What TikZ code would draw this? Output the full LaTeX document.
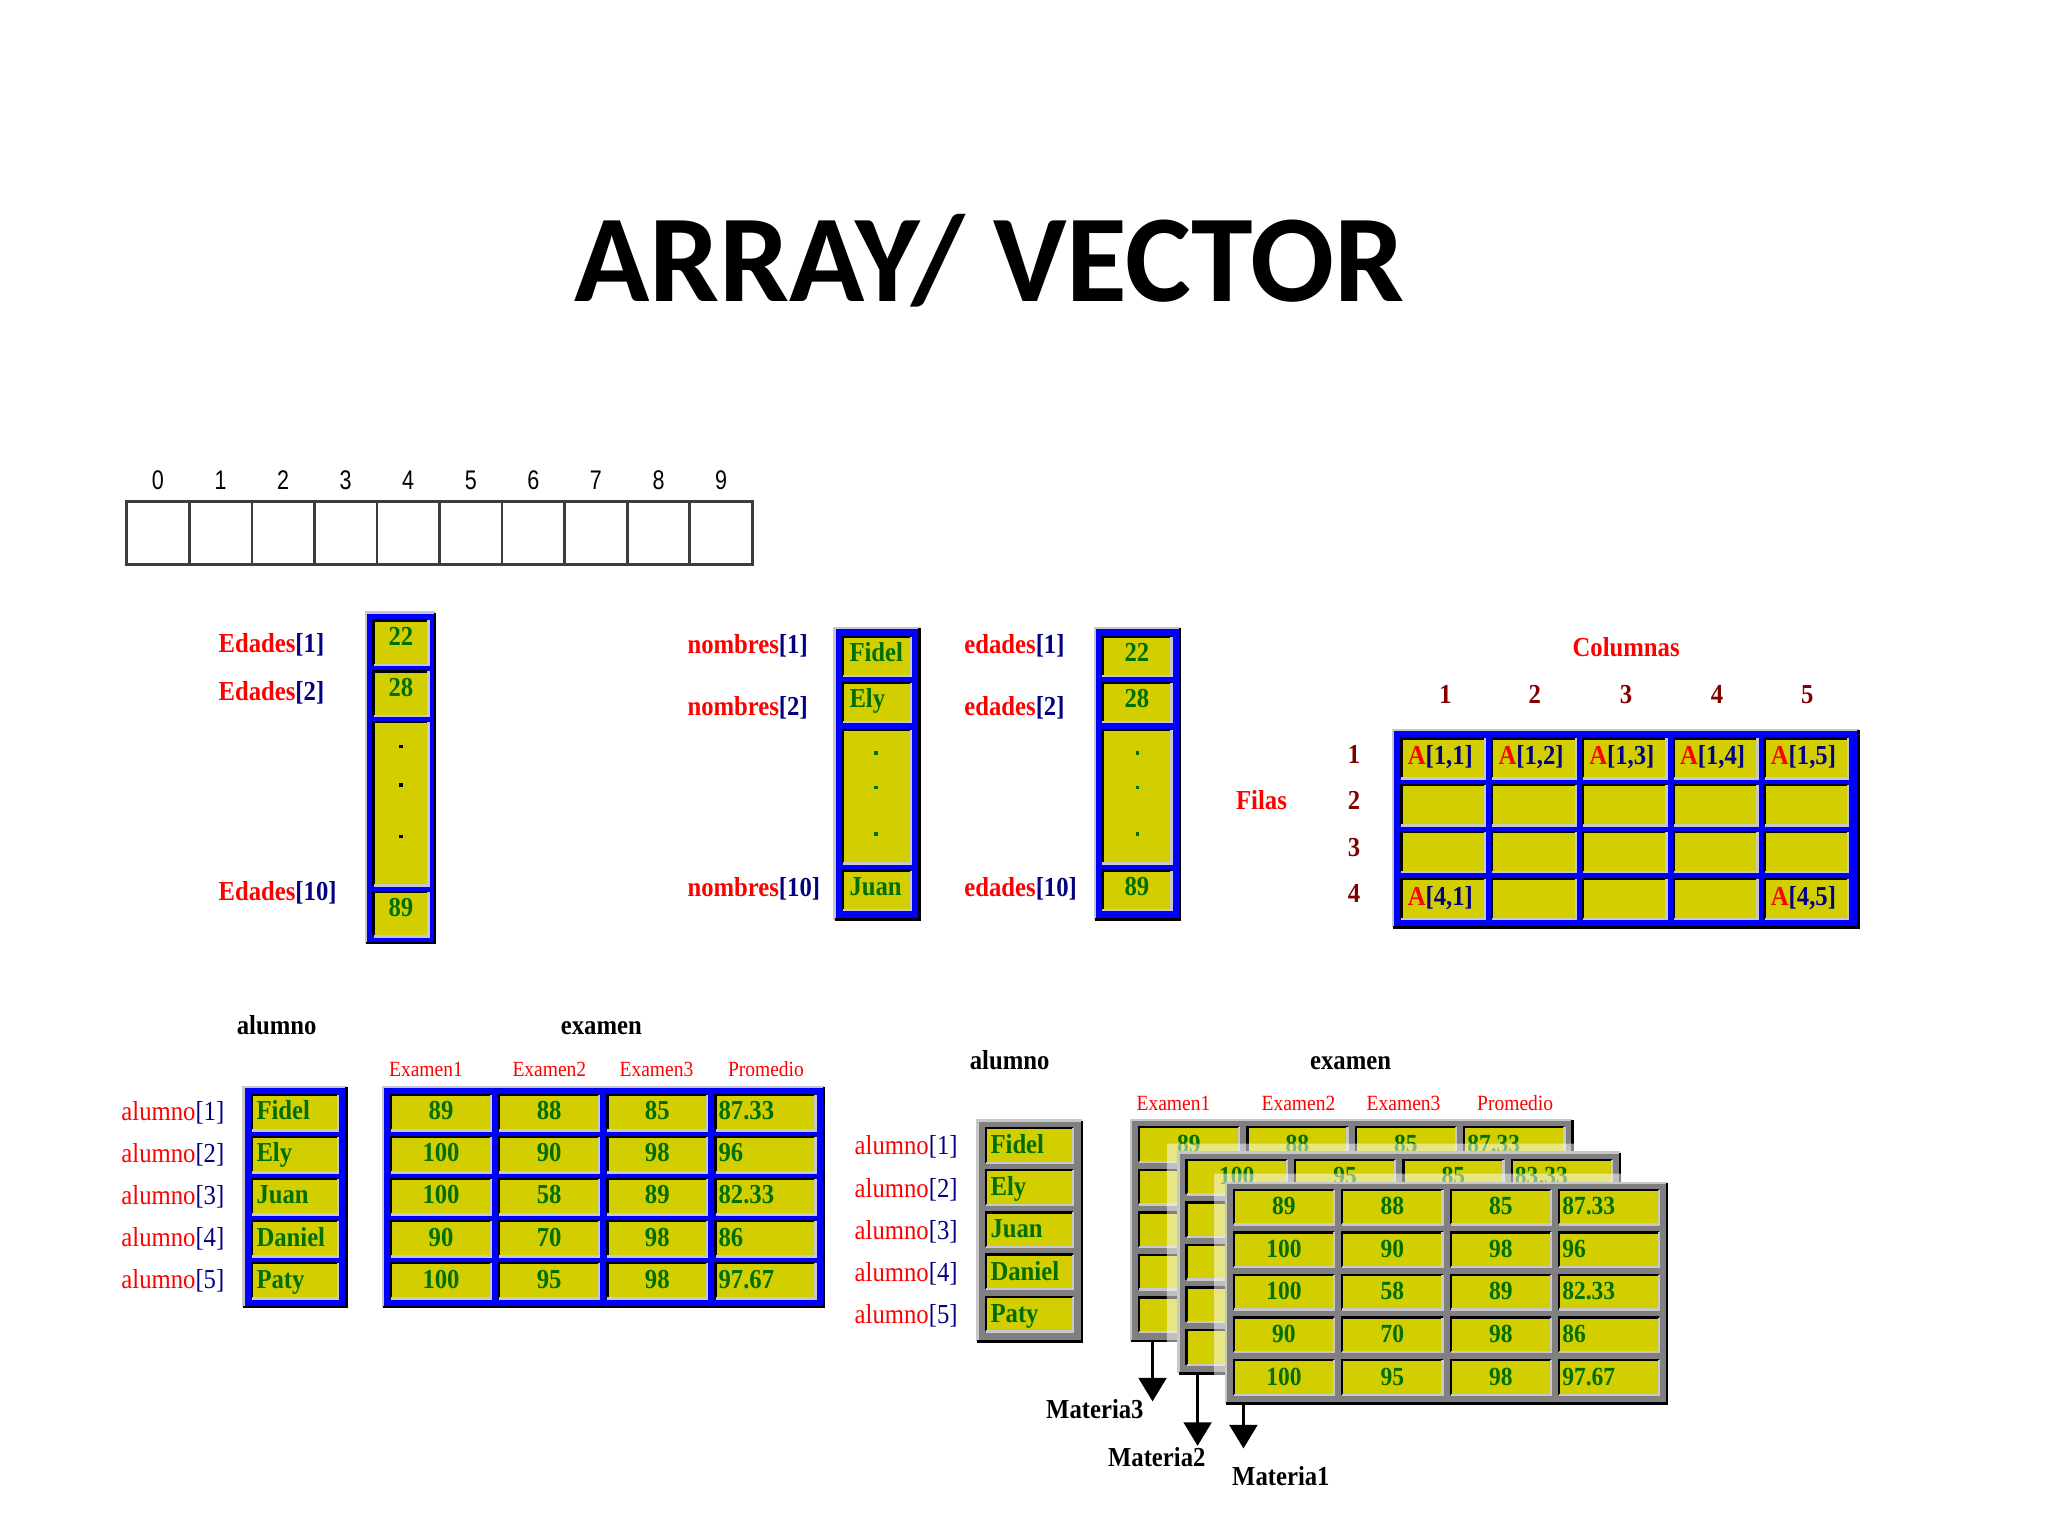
\documentclass[tikz,border=0pt]{standalone}
\usepackage{fontspec}
\setmainfont{Liberation Serif}
\newfontfamily\titlef{Carlito}
\newfontfamily\pixf[FakeStretch=0.9]{Liberation Serif}
\newfontfamily\digf[FakeStretch=0.8]{Liberation Sans}
\usetikzlibrary{calc,arrows.meta}
\definecolor{ycol}{RGB}{210,206,0}
\definecolor{gtxt}{RGB}{0,110,0}
\definecolor{navy}{RGB}{0,0,128}
\definecolor{dred}{RGB}{128,0,0}
\definecolor{frblue}{RGB}{0,0,255}
\definecolor{frgray}{RGB}{128,128,128}
\definecolor{bevl}{RGB}{200,200,200}
\definecolor{arrline}{RGB}{60,60,60}
% panel: #1 colour, #2 name, #3 x1, #4 y1, #5 x2, #6 y2
\newcommand\panel[6]{%
  \fill[#1] (#3,#4) rectangle (#5,#6);
  \draw[bevlight] (#3,#6) -- (#3,#4) -- (#5,#4);
  \draw[bevdark] (#3,#6) -- (#5,#6) -- (#5,#4);
  \coordinate (#2) at ($(#3,#4)!.5!(#5,#6)$);
}
% yellow cell: #1 name, #2 x1, #3 y1, #4 x2, #5 y2
\newcommand\ycell[5]{%
  \fill[ycol] (#2,#3) rectangle (#4,#5);
  \draw[bevdark] (#2,#5) -- (#2,#3) -- (#4,#3);
  \draw[bevlight] (#2,#5) -- (#4,#5) -- (#4,#3);
  \coordinate (#1) at ($(#2,#3)!.5!(#4,#5)$);
}
% grey exam table: #1 name, #2 x0, #3 y0
\newcommand\mtable[3]{%
  \panel{frgray}{#1}{#2}{#3}{#2+338}{#3+169}
  \foreach \rr in {0,...,4}{
    \foreach \cc in {0,...,3}{
      \pgfmathsetmacro\xa{#2+6.2+83*\cc}
      \pgfmathsetmacro\ya{#3+5.5+32.6*\rr}
      \pgfmathsetmacro\xb{\xa+76.7}
      \pgfmathsetmacro\yb{\ya+26.5}
      \ycell{#1-\rr-\cc}{\xa}{\ya}{\xb}{\yb}
    }
  }
}
% translucent band above and left of a table: #1 x0, #2 y0
\newcommand\band[2]{%
  \fill[white,opacity=.5] (#1-9,#2-7) rectangle (#1+338,#2) (#1-9,#2) rectangle (#1,#2+169);
}
% one row of table values: #1 name, #2 x0, #3 y0, #4 row, #5 list
\newcommand\mrow[5]{%
  \foreach \v [count=\cc from 0] in {#5}{
    \pgfmathsetmacro\xa{#2+6.2+83*\cc}
    \pgfmathsetmacro\ya{#3+5.5+32.6*#4+19}
    \ifnum\cc=3
      \node[lval,font=\pixf\bfseries\fontsize{10}{12}\selectfont] (#1-t-#4-\cc) at (\xa+2,\ya) {\v};
    \else
      \node[val,font=\pixf\bfseries\fontsize{10}{12}\selectfont] (#1-t-#4-\cc) at (\xa+38.3,\ya) {\v};
    \fi
  }
}
\begin{document}
\begin{tikzpicture}[x=0.5pt,y=-0.5pt,
  bevdark/.style={draw=black,line width=0.9pt},
  bevlight/.style={draw=bevl,line width=0.9pt},
  lab/.style={inner sep=0pt,anchor=base west,font=\pixf\bfseries\fontsize{10.5}{12}\selectfont},
  rlab/.style={inner sep=0pt,anchor=base west,font=\pixf\fontsize{10.5}{12}\selectfont},
  val/.style={inner sep=0pt,anchor=base,text=gtxt,font=\pixf\bfseries\fontsize{10.5}{12}\selectfont},
  lval/.style={val,anchor=base west},
  hdr/.style={inner sep=0pt,anchor=base west,text=red,font=\pixf\fontsize{8.3}{10}\selectfont},
  ttl/.style={inner sep=0pt,anchor=base,font=\pixf\bfseries\fontsize{10.5}{12}\selectfont},
  topcell/.style={draw=arrline,line width=1pt},
  arr/.style={line width=1.4pt,-{Triangle[width=10.5pt,length=9pt]}},
]
\fill[white] (0,0) rectangle (1568,1176);
\useasboundingbox (0,0) rectangle (1568,1176);

% title
\node[inner sep=0pt,anchor=base,font=\titlef\bfseries\fontsize{47.6}{56}\selectfont] (title) at (757.5,231) {ARRAY/ VECTOR};

% top 1-D array
\foreach \i in {0,...,9}{
  \pgfmathsetmacro\xa{97+47.9*\i}
  \pgfmathsetmacro\xb{\xa+47.9}
  \pgfmathsetmacro\xm{\xa+23.95}
  \draw[topcell] (\xa,384) rectangle (\xb,432);
  \coordinate (arr-\i) at (\xm,408);
  \node[inner sep=0pt,anchor=base,font=\digf\fontsize{10.3}{12}\selectfont] (idx-\i) at (\xm,375) {\i};
}

% Edades column
\panel{frblue}{edf}{280}{469}{333}{722}
\ycell{ed1}{286}{475}{328}{509}
\ycell{ed2}{286}{514}{328}{548}
\ycell{ed3}{286}{553}{328}{678}
\ycell{ed4}{286}{683}{328}{717}
\node[val] (ed1t) at (307,494) {22};
\node[val] (ed2t) at (307,533) {28};
\node[val] (ed4t) at (307,702) {89};
\foreach \y in {571.7,601,640.6}{\fill[black] (305.7,\y-1.3) rectangle (308.3,\y+1.3);}
\node[lab] (lbed1) at (167,499.5) {\textcolor{red}{Edades}\textcolor{navy}{[1]}};
\node[lab] (lbed2) at (167,536) {\textcolor{red}{Edades}\textcolor{navy}{[2]}};
\node[lab] (lbed10) at (167,689.6) {\textcolor{red}{Edades}\textcolor{navy}{[10]}};

% nombres column
\panel{frblue}{nof}{639}{481}{704}{704}
\ycell{no1}{645.6}{487.5}{697.5}{517.6}
\ycell{no2}{645.6}{523}{697.5}{553}
\ycell{no3}{645.6}{559}{697.5}{661}
\ycell{no4}{645.6}{666.6}{697.5}{696.7}
\node[lval] (no1t) at (650,506.5) {Fidel};
\node[lval] (no2t) at (650,542) {Ely};
\node[lval] (no4t) at (650,685.6) {Juan};
\foreach \y in {576.6,603,638.6}{\fill[gtxt] (669.4,\y-1.3) rectangle (672,\y+1.3);}
\node[lab] (lbno1) at (526,500) {\textcolor{red}{nombres}\textcolor{navy}{[1]}};
\node[lab] (lbno2) at (526,547.5) {\textcolor{red}{nombres}\textcolor{navy}{[2]}};
\node[lab] (lbno10) at (526,686.5) {\textcolor{red}{nombres}\textcolor{navy}{[10]}};

% edades column
\panel{frblue}{eef}{838.4}{481}{903.2}{704}
\ycell{ee1}{844}{487.5}{897}{517.6}
\ycell{ee2}{844}{523}{897}{553}
\ycell{ee3}{844}{559}{897}{661}
\ycell{ee4}{844}{666.6}{897}{696.7}
\node[val] (ee1t) at (870.5,506.5) {22};
\node[val] (ee2t) at (870.5,542) {28};
\node[val] (ee4t) at (870.5,685.6) {89};
\foreach \y in {576.6,603,638.6}{\fill[gtxt] (869.7,\y-1.3) rectangle (872.3,\y+1.3);}
\node[lab] (lbee1) at (738,500) {\textcolor{red}{edades}\textcolor{navy}{[1]}};
\node[lab] (lbee2) at (738,547.5) {\textcolor{red}{edades}\textcolor{navy}{[2]}};
\node[lab] (lbee10) at (738,686.5) {\textcolor{red}{edades}\textcolor{navy}{[10]}};

% 2-D matrix
\node[ttl,text=red] (columnas) at (1245,502.8) {Columnas};
\foreach \i/\x in {1/1106.7,2/1175,3/1245,4/1314.6,5/1383.6}{
  \node[ttl,text=dred] (col-\i) at (\x,538.5) {\i};}
\foreach \i/\y in {1/584.4,2/620,3/656,4/691}{
  \node[ttl,text=dred] (row-\i) at (1036.7,\y) {\i};}
\node[lab,text=red] (filas) at (946,620) {Filas};
\panel{frblue}{matf}{1066.4}{559}{1423}{710}
\foreach \rr in {0,...,3}{
  \foreach \cc in {0,...,4}{
    \pgfmathsetmacro\xa{1073+69.5*\cc}
    \pgfmathsetmacro\ya{565.3+35.9*\rr}
    \pgfmathsetmacro\xb{\xa+64}
    \pgfmathsetmacro\yb{\ya+30.7}
    \ycell{m-\rr-\cc}{\xa}{\ya}{\xb}{\yb}
  }
}
\foreach \cc in {1,...,5}{
  \pgfmathsetmacro\xa{1073+69.5*(\cc-1)+4.4}
  \node[lab] (a1-\cc) at (\xa,585.3) {\textcolor{red}{A}\textcolor{navy}{[1,\cc]}};
}
\node[lab] (a4-1) at (1077.4,693) {\textcolor{red}{A}\textcolor{navy}{[4,1]}};
\node[lab] (a4-5) at (1355.4,693) {\textcolor{red}{A}\textcolor{navy}{[4,5]}};

% bottom-left: alumno / examen
\node[ttl] (hal1) at (211.8,791.7) {alumno};
\node[ttl] (hex1) at (460.4,791.7) {examen};
\node[hdr] (h1e1) at (297.5,824.3) {Examen1};
\node[hdr] (h1e2) at (392,824.3) {Examen2};
\node[hdr] (h1e3) at (474,824.3) {Examen3};
\node[hdr] (h1p) at (557,824.3) {Promedio};
\panel{frblue}{alf1}{186.4}{832}{265.4}{1000.5}
\panel{frblue}{exf1}{293}{832}{631}{1000.5}
\foreach \nm [count=\rr from 0] in {Fidel,Ely,Juan,Daniel,Paty}{
  \pgfmathsetmacro\ya{838.4+32.2*\rr}
  \pgfmathsetmacro\yb{\ya+27}
  \ycell{al1-\rr}{192.8}{\ya}{259}{\yb}
  \node[lval] (al1t-\rr) at (196,\ya+19) {\nm};
  \pgfmathtruncatemacro\k{\rr+1}
  \node[rlab] (al1l-\rr) at (92.6,\ya+19.5) {\textcolor{red}{alumno}\textcolor{navy}{[\k]}};
}
\foreach \row [count=\rr from 0] in {{89,88,85,87.33},{100,90,98,96},{100,58,89,82.33},{90,70,98,86},{100,95,98,97.67}}{
  \foreach \v [count=\cc from 0] in \row {
    \pgfmathsetmacro\xa{299.4+82.8*\cc}
    \pgfmathsetmacro\ya{838.4+32.2*\rr}
    \pgfmathsetmacro\xb{\xa+76.5}
    \pgfmathsetmacro\yb{\ya+27}
    \ycell{ex1-\rr-\cc}{\xa}{\ya}{\xb}{\yb}
    \ifnum\cc=3
      \node[lval] (ex1t-\rr-\cc) at (\xa+2,\ya+19) {\v};
    \else
      \node[val] (ex1t-\rr-\cc) at (\xa+38.25,\ya+19) {\v};
    \fi
  }
}

% bottom-right: 3-D
\node[ttl] (hal2) at (773,818.7) {alumno};
\node[ttl] (hex2) at (1034,818.7) {examen};
\node[hdr] (h2e1) at (869.8,850.6) {Examen1};
\node[hdr] (h2e2) at (965.5,850.6) {Examen2};
\node[hdr] (h2e3) at (1046,850.6) {Examen3};
\node[hdr] (h2p) at (1130.6,850.6) {Promedio};
\panel{frgray}{alf2}{748.3}{858}{828.4}{1027}
\foreach \nm [count=\rr from 0] in {Fidel,Ely,Juan,Daniel,Paty}{
  \pgfmathsetmacro\ya{863.7+32.3*\rr}
  \pgfmathsetmacro\yb{\ya+26.5}
  \ycell{al2-\rr}{755}{\ya}{821.4}{\yb}
  \node[lval] (al2t-\rr) at (758,\ya+19.5) {\nm};
  \pgfmathtruncatemacro\k{\rr+1}
  \node[rlab] (al2l-\rr) at (654,\ya+20.5) {\textcolor{red}{alumno}\textcolor{navy}{[\k]}};
}
% Materia3 (back)
\mtable{t3}{865.8}{857.5}
\mrow{t3}{865.8}{857.5}{0}{89,88,85,87.33}
% Materia2 (middle)
\band{902.3}{882.5}
\mtable{t2}{902.3}{882.5}
\mrow{t2}{902.3}{882.5}{0}{100,95,85,83.33}
% Materia1 (front)
\band{938.5}{905.5}
\mtable{t1}{938.5}{905.5}
\mrow{t1}{938.5}{905.5}{0}{89,88,85,87.33}
\mrow{t1}{938.5}{905.5}{1}{100,90,98,96}
\mrow{t1}{938.5}{905.5}{2}{100,58,89,82.33}
\mrow{t1}{938.5}{905.5}{3}{90,70,98,86}
\mrow{t1}{938.5}{905.5}{4}{100,95,98,97.67}

% arrows and labels
\coordinate (m3a) at (882.4,1027.2);
\coordinate (m3b) at (882.4,1073);
\coordinate (m2a) at (916.9,1051);
\coordinate (m2b) at (916.9,1107);
\coordinate (m1a) at (952,1074.4);
\coordinate (m1b) at (952,1109);
\draw[arr] (m3a) -- (m3b);
\draw[arr] (m2a) -- (m2b);
\draw[arr] (m1a) -- (m1b);
\node[lab] (mat3) at (800.6,1086) {Materia3};
\node[lab] (mat2) at (848,1123) {Materia2};
\node[lab] (mat1) at (943,1137) {Materia1};
\end{tikzpicture}
\end{document}
